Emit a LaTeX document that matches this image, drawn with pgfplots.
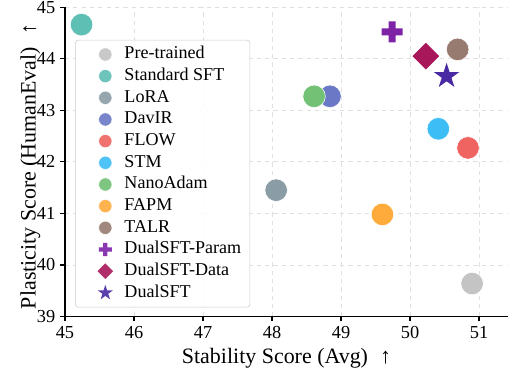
\documentclass[border=0pt]{standalone}
\usepackage{fontspec}
\setmainfont{Liberation Serif}
\usepackage{pgfplots}
\pgfplotsset{compat=1.18}
\usetikzlibrary{plotmarks}

\definecolor{cPre}{HTML}{C4C4C4}
\definecolor{cSFT}{HTML}{5EBFB4}
\definecolor{cLoRA}{HTML}{8A9CA6}
\definecolor{cDavIR}{HTML}{6B78C6}
\definecolor{cFLOW}{HTML}{EF6461}
\definecolor{cSTM}{HTML}{3DBDF6}
\definecolor{cNano}{HTML}{72C175}
\definecolor{cFAPM}{HTML}{FFAB3C}
\definecolor{cTALR}{HTML}{977B70}
\definecolor{cParam}{HTML}{7E22A6}
\definecolor{cData}{HTML}{A8175A}
\definecolor{cDual}{HTML}{4A2AA3}

\pgfdeclareplotmark{fstar}{%
  \pgfpathmoveto{\pgfpointpolar{90}{\pgfplotmarksize}}%
  \pgfpathlineto{\pgfpointpolar{126}{0.382\pgfplotmarksize}}%
  \pgfpathlineto{\pgfpointpolar{162}{\pgfplotmarksize}}%
  \pgfpathlineto{\pgfpointpolar{198}{0.382\pgfplotmarksize}}%
  \pgfpathlineto{\pgfpointpolar{234}{\pgfplotmarksize}}%
  \pgfpathlineto{\pgfpointpolar{270}{0.382\pgfplotmarksize}}%
  \pgfpathlineto{\pgfpointpolar{306}{\pgfplotmarksize}}%
  \pgfpathlineto{\pgfpointpolar{342}{0.382\pgfplotmarksize}}%
  \pgfpathlineto{\pgfpointpolar{18}{\pgfplotmarksize}}%
  \pgfpathlineto{\pgfpointpolar{54}{0.382\pgfplotmarksize}}%
  \pgfpathclose\pgfusepathqfill}
\pgfdeclareplotmark{fplus}{%
  \pgfpathmoveto{\pgfpoint{-0.333\pgfplotmarksize}{\pgfplotmarksize}}%
  \pgfpathlineto{\pgfpoint{0.333\pgfplotmarksize}{\pgfplotmarksize}}%
  \pgfpathlineto{\pgfpoint{0.333\pgfplotmarksize}{0.333\pgfplotmarksize}}%
  \pgfpathlineto{\pgfpoint{\pgfplotmarksize}{0.333\pgfplotmarksize}}%
  \pgfpathlineto{\pgfpoint{\pgfplotmarksize}{-0.333\pgfplotmarksize}}%
  \pgfpathlineto{\pgfpoint{0.333\pgfplotmarksize}{-0.333\pgfplotmarksize}}%
  \pgfpathlineto{\pgfpoint{0.333\pgfplotmarksize}{-\pgfplotmarksize}}%
  \pgfpathlineto{\pgfpoint{-0.333\pgfplotmarksize}{-\pgfplotmarksize}}%
  \pgfpathlineto{\pgfpoint{-0.333\pgfplotmarksize}{-0.333\pgfplotmarksize}}%
  \pgfpathlineto{\pgfpoint{-\pgfplotmarksize}{-0.333\pgfplotmarksize}}%
  \pgfpathlineto{\pgfpoint{-\pgfplotmarksize}{0.333\pgfplotmarksize}}%
  \pgfpathlineto{\pgfpoint{-0.333\pgfplotmarksize}{0.333\pgfplotmarksize}}%
  \pgfpathclose\pgfusepathqfill}
\pgfdeclareplotmark{fdiam}{%
  \pgfpathmoveto{\pgfpoint{0pt}{\pgfplotmarksize}}%
  \pgfpathlineto{\pgfpoint{\pgfplotmarksize}{0pt}}%
  \pgfpathlineto{\pgfpoint{0pt}{-\pgfplotmarksize}}%
  \pgfpathlineto{\pgfpoint{-\pgfplotmarksize}{0pt}}%
  \pgfpathclose\pgfusepathqfill}

\begin{document}
\begin{tikzpicture}
\path[use as bounding box] (-46.8pt,-40.32pt) rectangle (318.96pt,227.9pt);
\begin{axis}[
  at={(0pt,0pt)}, anchor=south west,
  scale only axis, width=318.96pt, height=222.8pt,
  xmin=45, xmax=51.42, ymin=39, ymax=45,
  xtick={45,46,...,51}, ytick={39,40,...,45},
  axis lines*=left,
  axis line style={black, line width=0.8pt},
  tick align=outside, major tick length=3.5pt,
  tick style={black, line width=0.8pt},
  grid=major, grid style={dashed, black!12, line width=0.5pt},
  /pgf/number format/assume math mode=true,
  tick label style={font=\fontsize{13.2}{14}\selectfont},
  label style={font=\fontsize{15.8}{17}\selectfont},
  xlabel={Stability Score (Avg)\hspace{0.55em}↑},
  ylabel={Plasticity Score (HumanEval)\hspace{0.55em}↑},
  xlabel style={at={(axis description cs:0.5,-0.135)}, anchor=center},
  ylabel style={at={(axis description cs:-0.078,0.485)}, anchor=center},
  legend cell align=left,
  legend style={at={(axis description cs:0.023,0.894)}, anchor=north west,
    font=\fontsize{13}{14}\selectfont, draw=black!20, fill=white, fill opacity=0.9, text opacity=1,
    rounded corners=2pt, row sep=0pt, inner xsep=4.5pt, inner ysep=2.5pt,
    nodes={text height=9.2pt, text depth=2.8pt, inner sep=1.8pt}},
  legend image code/.code={\path[draw=none,fill=none] (0pt,0pt) -- (29pt,0pt); \path[#1] plot coordinates {(17pt,0pt)};},
  every axis plot/.append style={only marks},
]
\addplot[mark=*, mark size=8.1pt, color=cPre, mark options={draw=white, line width=0.4pt, fill=cPre}, legend image post style={mark size=4.8pt}] coordinates {(50.90,39.64)};
\addlegendentry{Pre-trained}
\addplot[mark=*, mark size=8.1pt, color=cSFT, mark options={draw=white, line width=0.4pt, fill=cSFT}, legend image post style={mark size=4.8pt}] coordinates {(45.24,44.66)};
\addlegendentry{Standard SFT}
\addplot[mark=*, mark size=8.1pt, color=cLoRA, mark options={draw=white, line width=0.4pt, fill=cLoRA}, legend image post style={mark size=4.8pt}] coordinates {(48.06,41.45)};
\addlegendentry{LoRA}
\addplot[mark=*, mark size=8.1pt, color=cDavIR, mark options={draw=white, line width=0.4pt, fill=cDavIR}, legend image post style={mark size=4.8pt}] coordinates {(48.84,43.27)};
\addlegendentry{DavIR}
\addplot[mark=*, mark size=8.1pt, color=cFLOW, mark options={draw=white, line width=0.4pt, fill=cFLOW}, legend image post style={mark size=4.8pt}] coordinates {(50.84,42.27)};
\addlegendentry{FLOW}
\addplot[mark=*, mark size=8.1pt, color=cSTM, mark options={draw=white, line width=0.4pt, fill=cSTM}, legend image post style={mark size=4.8pt}] coordinates {(50.41,42.64)};
\addlegendentry{STM}
\addplot[mark=*, mark size=8.1pt, color=cNano, mark options={draw=white, line width=0.4pt, fill=cNano}, legend image post style={mark size=4.8pt}] coordinates {(48.61,43.27)};
\addlegendentry{NanoAdam}
\addplot[mark=*, mark size=8.1pt, color=cFAPM, mark options={draw=white, line width=0.4pt, fill=cFAPM}, legend image post style={mark size=4.8pt}] coordinates {(49.60,40.98)};
\addlegendentry{FAPM}
\addplot[mark=*, mark size=8.1pt, color=cTALR, mark options={draw=white, line width=0.4pt, fill=cTALR}, legend image post style={mark size=4.8pt}] coordinates {(50.69,44.18)};
\addlegendentry{TALR}
\addplot[mark=fplus, mark size=7.6pt, color=cParam, legend image post style={mark size=4.7pt}] coordinates {(49.74,44.52)};
\addlegendentry{DualSFT-Param}
\addplot[mark=fdiam, mark size=9.6pt, color=cData, legend image post style={mark size=5.6pt}] coordinates {(50.23,44.05)};
\addlegendentry{DualSFT-Data}
\addplot[mark=fstar, mark size=9.6pt, color=cDual, legend image post style={mark size=5.8pt}] coordinates {(50.53,43.66)};
\addlegendentry{DualSFT}
\end{axis}
\end{tikzpicture}
\end{document}
